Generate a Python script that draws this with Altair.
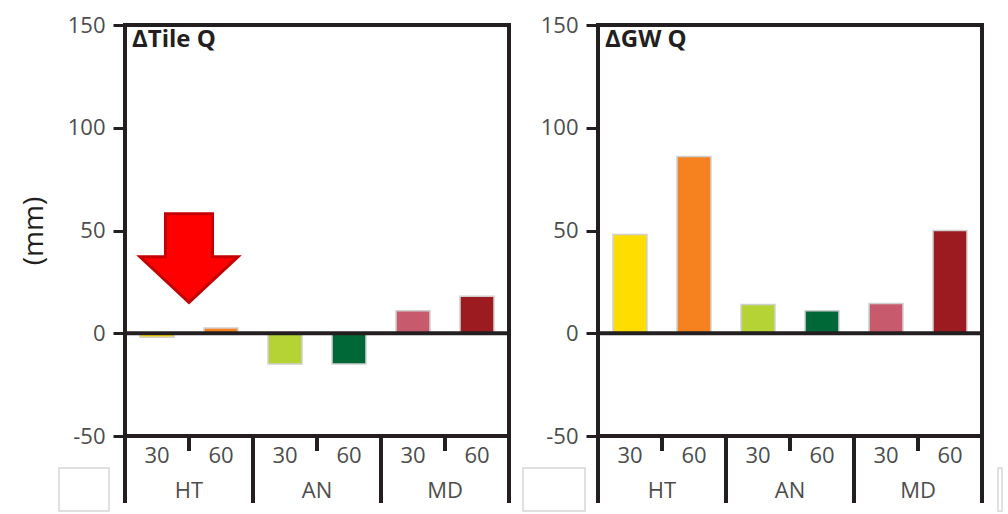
import altair as alt
import pandas as pd

# ---- data ----
groups = ["HT", "HT", "AN", "AN", "MD", "MD"]
depths = ["30", "60", "30", "60", "30", "60"]
keys = [g + d for g, d in zip(groups, depths)]
tile_q = [-2, 2.5, -15, -15, 11, 18]
gw_q = [48, 86, 14, 11, 14.5, 50]
bar_colors = ["#FFDD00", "#F5821F", "#B5D334", "#006837", "#C85A6E", "#9B1B20"]
y_ticks = [-50, 0, 50, 100, 150]
panel_titles = ["\u0394Tile Q", "\u0394GW Q"]
arrow_key = ["HT60"]
arrow_value = [36]

BLACK = "#231f20"
GRAY = "#4d4d4d"
FONT = "Open Sans"
W, H = 384, 411

# arrow outline (unit box), drawn half a slot to the left of the band centre
ARROW = ("M -1.133 -0.93 L -0.173 -0.93 L -0.173 -0.05 L 0.347 -0.05 "
         "L -0.653 0.88 L -1.653 -0.05 L -1.133 -0.05 Z")


def XB():
    # bar band scale
    return alt.X("key:N", sort=keys, axis=None,
                 scale=alt.Scale(domain=keys, paddingInner=0.47, paddingOuter=0.235))


def XS(bp):
    # full-step slots: band start = gap centre before each bar
    return alt.X("key:N", sort=keys, axis=None, bandPosition=bp,
                 scale=alt.Scale(domain=keys, paddingInner=0, paddingOuter=0))


YS = alt.Scale(domain=[-50, 150], nice=False, zero=False)


def panel(values, title, with_ytitle, boxes, arrow=False):
    df = pd.DataFrame({"key": keys, "group": groups, "depth": depths, "value": values})
    base = alt.Chart(df)

    ax_kw = dict(values=y_ticks, grid=False, domain=False, tickColor=BLACK, tickWidth=3,
                 tickSize=12, labelPadding=8, labelFontSize=22, labelColor=GRAY,
                 labelFont=FONT, labelExpr="'' + datum.value")
    if with_ytitle:
        ax_kw.update(title="(mm)", titleFontSize=28, titleFontWeight="normal",
                     titleColor=BLACK, titleFont=FONT, titlePadding=19)
    else:
        ax_kw.update(title="")
    Y = alt.Y("value:Q", scale=YS, axis=alt.Axis(**ax_kw))

    bars = base.mark_bar(stroke="#cfcfcf", strokeWidth=1.5).encode(
        x=XB(), y=Y, y2=alt.datum(0),
        color=alt.Color("key:N", scale=alt.Scale(domain=keys, range=bar_colors), legend=None),
    )
    zero = base.transform_filter(alt.datum.key == keys[0]).mark_rule(
        color=BLACK, strokeWidth=4).encode(y=alt.datum(0))

    sub = base.mark_text(fontSize=22, color=GRAY, font=FONT, baseline="middle").encode(
        x=XB(), y=alt.value(431), text="depth:N")
    grp = base.transform_filter(alt.datum.depth == "30").mark_text(
        fontSize=22, color=GRAY, font=FONT, baseline="middle", dx=W / 12).encode(
        x=XS(0.5), y=alt.value(466), text="group:N")

    major = base.transform_filter(alt.datum.depth == "30").mark_rule(
        color=BLACK, strokeWidth=4).encode(x=XS(0), y=alt.value(H), y2=alt.value(478))
    end = base.transform_filter(alt.datum.key == keys[-1]).mark_rule(
        color=BLACK, strokeWidth=4).encode(x=XS(1), y=alt.value(H), y2=alt.value(478))
    minor = base.transform_filter(alt.datum.depth == "60").mark_rule(
        color=BLACK, strokeWidth=4).encode(x=XS(0), y=alt.value(H), y2=alt.value(426))

    ttl = alt.Chart(pd.DataFrame({"t": [title]})).mark_text(
        align="left", baseline="top", fontSize=24, fontWeight="bold", font=FONT,
        color=BLACK).encode(x=alt.value(7), y=alt.value(3), text="t:N")

    layers = [bars, zero, sub, grp, major, end, minor, ttl]

    if arrow:
        adf = pd.DataFrame({"key": arrow_key, "value": arrow_value})
        layers.append(alt.Chart(adf).mark_point(
            shape=ARROW, size=9604, filled=True, fill="#FF0000", stroke="#C40000",
            strokeWidth=3, opacity=1).encode(x=XB(), y=Y))

    for (x1, x2) in boxes:
        box = alt.Chart(pd.DataFrame({"b": [0]})).mark_rect(
            fill="white", stroke="#d6d6d6", strokeWidth=1.5).encode(
            x=alt.value(x1), x2=alt.value(x2), y=alt.value(443), y2=alt.value(486))
        layers.insert(0, box)

    return alt.layer(*layers).resolve_scale(x="independent").properties(width=W, height=H)


left = panel(tile_q, panel_titles[0], True, [(-66, -16)], arrow=True)
right = panel(gw_q, panel_titles[1], False, [(-75, -13), (400, 404)])

chart = alt.hconcat(left, right, spacing=7).properties(
    padding={"left": 18, "top": 12, "right": 0, "bottom": 0},
    background="white",
).configure_view(stroke=BLACK, strokeWidth=4)

chart.save("out.html", embed_options={"renderer": "svg", "actions": False})
